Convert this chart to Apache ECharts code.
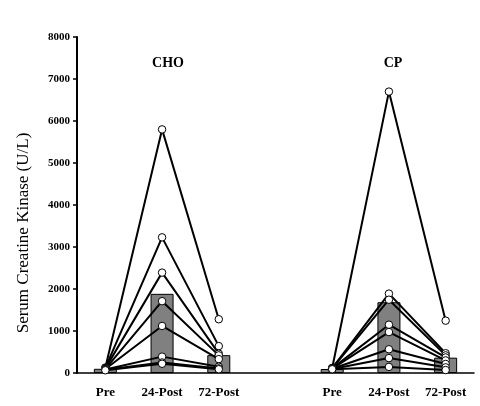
<!DOCTYPE html>
<html>
<head>
<meta charset="utf-8">
<script src="https://cdn.jsdelivr.net/npm/echarts@6/dist/echarts.min.js"></script>
<style>
  html, body { margin: 0; padding: 0; background: #fff; }
  #chart { width: 480px; height: 406px; }
</style>
</head>
<body>
<div id="chart"></div>
<script>
// x slots: CHO block, empty gap, CP block
const categories = ["Pre", "24-Post", "72-Post", "", "Pre", "24-Post", "72-Post"];

// individual subjects, CHO condition
const choPre = [130, 120, 110, 100, 95, 85, 75, 65];
const cho24 = [5800, 3230, 2390, 1710, 1120, 390, 250, 220];
const cho72 = [1280, 640, 460, 420, 330, 150, 110, 90];

// individual subjects, CP condition
const cpPre = [120, 115, 110, 110, 105, 100, 95, 90];
const cp24 = [6700, 1890, 1745, 1150, 975, 565, 355, 145];
const cp72 = [1246, 470, 420, 370, 300, 215, 135, 70];

// group means (bars)
const choMeans = [100, 1885, 425];
const cpMeans = [95, 1685, 365];

const groupTitles = ["CHO", "CP"];

const serif = "Liberation Serif";

const chart = echarts.init(document.getElementById("chart"));

const subjectLine = (data) => ({
  type: "line",
  data: data,
  z: 5,
  symbol: "circle",
  symbolSize: 7.5,
  showSymbol: true,
  connectNulls: false,
  lineStyle: { color: "#000", width: 2 },
  itemStyle: { color: "#fff", borderColor: "#000", borderWidth: 1 },
  animation: false,
});

const series = [
  {
    type: "bar",
    data: [...choMeans, "-", ...cpMeans],
    barWidth: 23,
    z: 2,
    itemStyle: { color: "#808080", borderColor: "#000", borderWidth: 1 },
    animation: false,
  },
];

choPre.forEach((v, i) => {
  series.push(subjectLine([v, cho24[i], cho72[i], "-", "-", "-", "-"]));
});
cpPre.forEach((v, i) => {
  series.push(subjectLine(["-", "-", "-", "-", v, cp24[i], cp72[i]]));
});

chart.setOption({
  animation: false,
  grid: { left: 77, right: 6, top: 37, bottom: 33, containLabel: false },
  xAxis: {
    type: "category",
    data: categories,
    axisLine: { lineStyle: { color: "#000", width: 1.5 } },
    axisTick: { show: false },
    axisLabel: {
      color: "#000",
      fontFamily: serif,
      fontWeight: "bold",
      fontSize: 13,
      margin: 13,
      interval: 0,
    },
  },
  yAxis: {
    type: "value",
    min: 0,
    max: 8000,
    interval: 1000,
    splitLine: { show: false },
    axisLine: { show: true, lineStyle: { color: "#000", width: 2 } },
    axisTick: { show: true, length: 4, lineStyle: { color: "#000", width: 1.5 } },
    axisLabel: {
      color: "#000",
      fontFamily: serif,
      fontWeight: "bold",
      fontSize: 11,
      margin: 7,
      formatter: (v) => String(v),
    },
  },
  title: [
    {
      text: groupTitles[0],
      left: 163,
      top: 51,
      textAlign: "center",
      textStyle: { fontFamily: serif, fontWeight: "bold", fontSize: 14, color: "#000" },
    },
    {
      text: groupTitles[1],
      left: 388,
      top: 51,
      textAlign: "center",
      textStyle: { fontFamily: serif, fontWeight: "bold", fontSize: 14, color: "#000" },
    },
  ],
  graphic: [
    {
      type: "text",
      x: 24,
      y: 233,
      rotation: Math.PI / 2,
      style: {
        text: "Serum Creatine Kinase (U/L)",
        fontFamily: serif,
        fontSize: 17,
        fill: "#000",
        align: "center",
        verticalAlign: "middle",
      },
    },
  ],
  series: series,
});
</script>
</body>
</html>
